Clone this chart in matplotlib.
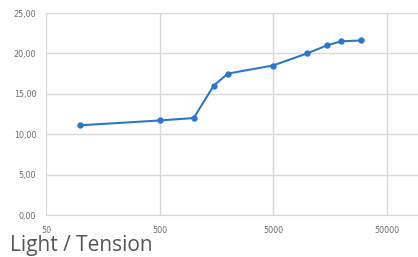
import numpy as np
import matplotlib
matplotlib.use("Agg")
import matplotlib.pyplot as plt
from matplotlib.ticker import FixedLocator, FuncFormatter

# Data
light = [100, 500, 1000, 1500, 2000, 5000, 10000, 15000, 20000, 30000]
tension = [11.1, 11.7, 12.0, 16.0, 17.5, 18.5, 20.0, 21.0, 21.5, 21.6]
x_ticks = [50, 500, 5000, 50000]
y_ticks = [0, 5, 10, 15, 20, 25]
caption = "Light / Tension"

W, H = 418, 257
fig = plt.figure(figsize=(W / 100, H / 100), dpi=100)

# plot area in pixel coordinates
left, top, bottom, right = 46, 13, 215, 418
ax = fig.add_axes([left / W, 1 - bottom / H, (right - left) / W, (bottom - top) / H])

decade_px = 113.5
xmax = 50 * 10 ** ((right - left) / decade_px)
ax.set_xscale("log")
ax.set_xlim(50, xmax)
ax.set_ylim(0, 25)

ax.plot(light, tension, color="#2F77C6", lw=1.5, marker="o", ms=3.6, zorder=3)

ax.xaxis.set_major_locator(FixedLocator(x_ticks))
ax.xaxis.set_minor_locator(FixedLocator([]))
ax.xaxis.set_major_formatter(FuncFormatter(lambda v, p: f"{v:g}"))
ax.yaxis.set_major_locator(FixedLocator(y_ticks))
ax.yaxis.set_major_formatter(FuncFormatter(lambda v, p: f"{v:.2f}".replace(".", ",")))

ax.grid(True, color="#D9D9D9", lw=1)
ax.set_axisbelow(True)
for s in ["top", "right", "left"]:
    ax.spines[s].set_visible(False)
ax.spines["bottom"].set_color("#D9D9D9")
ax.tick_params(length=0, labelsize=5.8, labelcolor="#6E6E6E", pad=7)
ax.tick_params(axis="x", pad=8)

fig.text(10 / W, 1 - 251 / H, caption, fontsize=15, color="#555555",
         family="Open Sans", va="baseline", ha="left")

fig.savefig("out.png", dpi=100)
